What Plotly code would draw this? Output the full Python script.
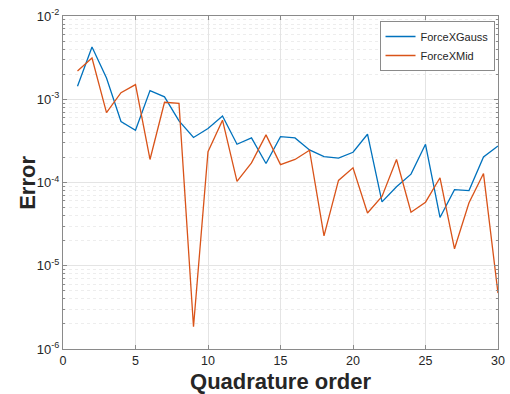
import plotly.graph_objects as go

order = list(range(1, 31))
force_x_gauss = [1.43e-3, 4.25e-3, 1.8e-3, 5.4e-4, 4.25e-4, 1.27e-3, 1.07e-3, 5.5e-4, 3.47e-4, 4.45e-4,
                 6.3e-4, 2.88e-4, 3.43e-4, 1.69e-4, 3.56e-4, 3.43e-4, 2.46e-4, 2.05e-4, 1.96e-4, 2.31e-4,
                 3.8e-4, 5.85e-5, 8.9e-5, 1.26e-4, 2.88e-4, 3.8e-5, 8.2e-5, 8.0e-5, 2.03e-4, 2.75e-4]
force_x_mid = [2.19e-3, 3.13e-3, 6.9e-4, 1.2e-3, 1.5e-3, 1.89e-4, 9.2e-4, 8.9e-4, 1.85e-6, 2.35e-4,
               5.6e-4, 1.03e-4, 1.72e-4, 3.73e-4, 1.64e-4, 1.89e-4, 2.44e-4, 2.29e-5, 1.06e-4, 1.5e-4,
               4.3e-5, 6.8e-5, 1.89e-4, 4.4e-5, 5.8e-5, 1.14e-4, 1.6e-5, 5.7e-5, 1.28e-4, 4.7e-6]
x_ticks = [0, 5, 10, 15, 20, 25, 30]
y_tick_vals = [1e-6, 1e-5, 1e-4, 1e-3, 1e-2]
y_tick_text = ["10<sup>-6</sup>", "10<sup>-5</sup>", "10<sup>-4</sup>", "10<sup>-3</sup>", "10<sup>-2</sup>"]
y_minor_vals = [m * d for d in [1e-6, 1e-5, 1e-4, 1e-3] for m in range(2, 10)]

FONT = "Liberation Sans, Arial, Helvetica, sans-serif"

fig = go.Figure()
fig.add_trace(go.Scatter(x=order, y=force_x_gauss, mode="lines", name="ForceXGauss",
                         line=dict(color="#0072BD", width=1.3)))
fig.add_trace(go.Scatter(x=order, y=force_x_mid, mode="lines", name="ForceXMid",
                         line=dict(color="#D95319", width=1.3)))

axis_common = dict(showline=True, linecolor="#8a8a8a", linewidth=1, mirror="ticks",
                   ticks="inside", tickcolor="#8a8a8a", ticklen=4,
                   gridcolor="#e4e4e4", gridwidth=1, zeroline=False, automargin=False)

fig.update_xaxes(range=[0, 30], tickvals=x_ticks, showgrid=True,
                 tickfont=dict(family=FONT, size=12.5, color="#262626"),
                 title=dict(text="<b>Quadrature order</b>", font=dict(family=FONT, size=22, color="#262626"),
                            standoff=10),
                 **axis_common)
fig.update_yaxes(type="log", range=[-6, -2], tickvals=y_tick_vals, ticktext=y_tick_text, showgrid=True,
                 tickfont=dict(family=FONT, size=13, color="#262626"),
                 minor=dict(tickvals=y_minor_vals, ticks="inside", ticklen=2, tickcolor="#8a8a8a",
                            showgrid=True, gridcolor="#ededed", griddash="dot"),
                 **axis_common)

fig.add_annotation(text="<b>Error</b>", xref="paper", yref="paper", x=-0.082, y=0.5,
                   xanchor="center", yanchor="middle", textangle=-90, showarrow=False,
                   font=dict(family=FONT, size=22, color="#262626"))

fig.update_layout(
    width=510, height=394,
    margin=dict(l=63, r=12, t=16, b=45),
    paper_bgcolor="white", plot_bgcolor="white",
    showlegend=True,
    legend=dict(x=0.992, y=0.985, xanchor="right", yanchor="top",
                bgcolor="white", bordercolor="#8a8a8a", borderwidth=1,
                font=dict(family=FONT, size=11, color="#262626"),
                tracegroupgap=0, itemwidth=30),
)

fig.write_html("out.html")
